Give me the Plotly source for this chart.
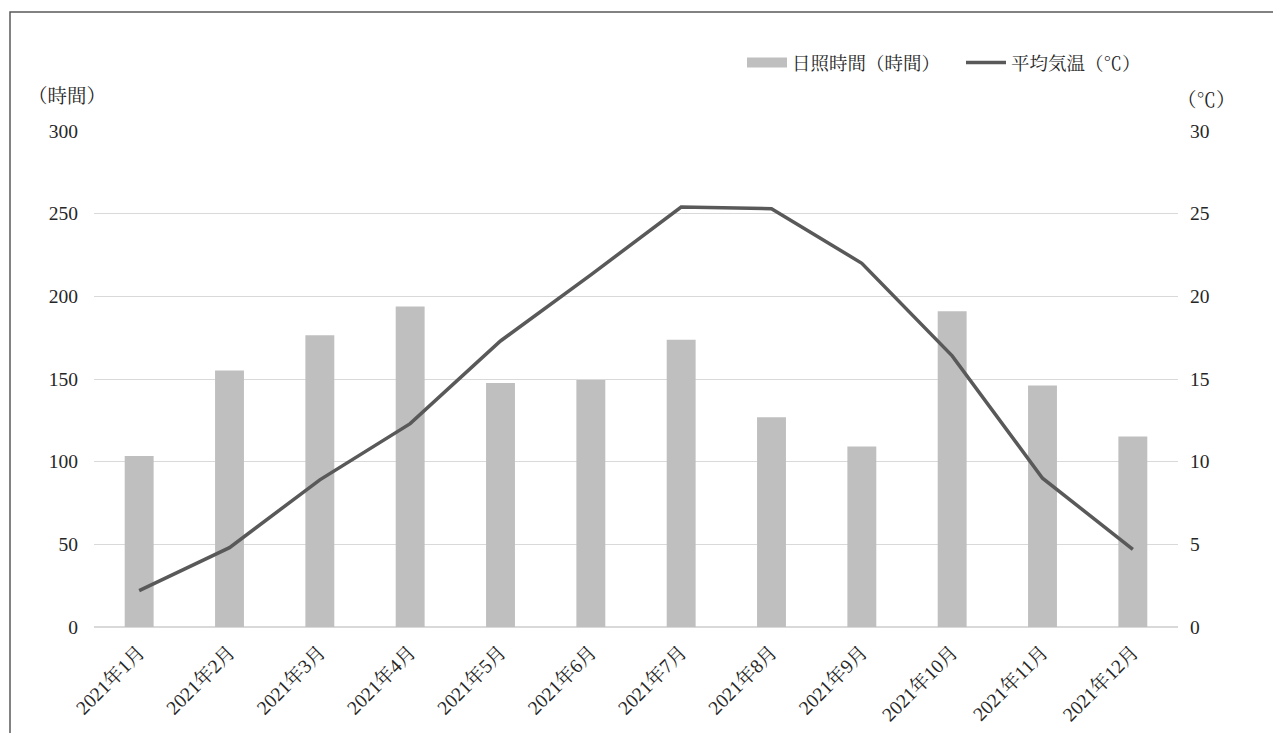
import plotly.graph_objects as go

months = ["2021年1月", "2021年2月", "2021年3月", "2021年4月", "2021年5月", "2021年6月",
          "2021年7月", "2021年8月", "2021年9月", "2021年10月", "2021年11月", "2021年12月"]
sunshine_hours = [103.5, 155.1, 176.4, 193.8, 147.6, 149.4, 173.8, 126.8, 109.1, 191.0, 146.0, 115.2]
avg_temp = [2.2, 4.8, 8.9, 12.3, 17.3, 21.3, 25.4, 25.3, 22.0, 16.4, 9.0, 4.7]

FONT = "Liberation Serif, Noto Serif CJK JP, Noto Sans CJK JP, serif"
TXT = "#262626"
BAR_COLOR = "#bfbfbf"
LINE_COLOR = "#595959"

# page body has an 8px default margin
OFF = 8
W, H = 1281 - OFF, 733 - OFF
L, T = 94 - OFF, 131 - OFF
pw, ph = 1084, 496
R, B = W - L - pw, H - T - ph


def px(x):  # page pixel x -> paper fraction
    return (x - OFF - L) / pw


def py(y):  # page pixel y -> paper fraction
    return (T + ph - (y - OFF)) / ph


fig = go.Figure()
fig.add_trace(go.Bar(x=months, y=sunshine_hours, name="日照時間（時間）", legendgroup="sun",
                     showlegend=False, marker=dict(color=BAR_COLOR, line=dict(width=0)), yaxis="y"))
# legend entry for the bars drawn as a wide flat swatch
fig.add_trace(go.Scatter(x=[None], y=[None], name="日照時間（時間）", legendgroup="sun",
                         mode="lines", line=dict(color=BAR_COLOR, width=10), yaxis="y",
                         hoverinfo="skip"))
fig.add_trace(go.Scatter(x=months, y=avg_temp, name="平均気温（℃）", mode="lines",
                         line=dict(color=LINE_COLOR, width=3.5), yaxis="y2"))

fig.update_layout(
    width=W, height=H,
    margin=dict(l=L, r=R, t=T, b=B, autoexpand=False),
    paper_bgcolor="white", plot_bgcolor="white",
    font=dict(family=FONT, size=18, color=TXT),
    bargap=0.68,
    showlegend=True,
    legend=dict(orientation="h", x=px(742), xanchor="left", y=py(63), yanchor="middle",
                font=dict(family=FONT, size=18.5, color=TXT), bgcolor="rgba(0,0,0,0)",
                traceorder="normal", itemwidth=40, entrywidth=164, entrywidthmode="pixels"),
    xaxis=dict(tickangle=-45, showgrid=False, showline=False, ticks="",
               ticklabelstandoff=9,
               tickfont=dict(family=FONT, size=19.5, color=TXT)),
    yaxis=dict(range=[0, 300], dtick=50, showgrid=True, gridcolor="#d9d9d9", gridwidth=1,
               zeroline=True, zerolinecolor="#d9d9d9", zerolinewidth=1.5, showline=False, ticks="",
               ticklabelstandoff=15,
               tickfont=dict(family=FONT, size=19.5, color=TXT)),
    yaxis2=dict(range=[0, 30], dtick=5, overlaying="y", side="right", showgrid=False,
                zeroline=False, showline=False, ticks="", ticklabelstandoff=11,
                tickfont=dict(family=FONT, size=19.5, color=TXT)),
    annotations=[
        dict(text="（時間）", x=px(67), y=py(96), xref="paper", yref="paper", showarrow=False,
             xanchor="center", yanchor="middle", font=dict(family=FONT, size=19.5, color=TXT)),
        dict(text="（℃）", x=px(1206), y=py(100), xref="paper", yref="paper", showarrow=False,
             xanchor="center", yanchor="middle", font=dict(family=FONT, size=19.5, color=TXT)),
    ],
    shapes=[
        dict(type="rect", xref="paper", yref="paper", x0=px(10), x1=px(1320), y0=py(780), y1=py(12),
             line=dict(color=LINE_COLOR, width=1.5), fillcolor="rgba(0,0,0,0)", layer="above"),
    ],
)

fig.write_html("out.html")
